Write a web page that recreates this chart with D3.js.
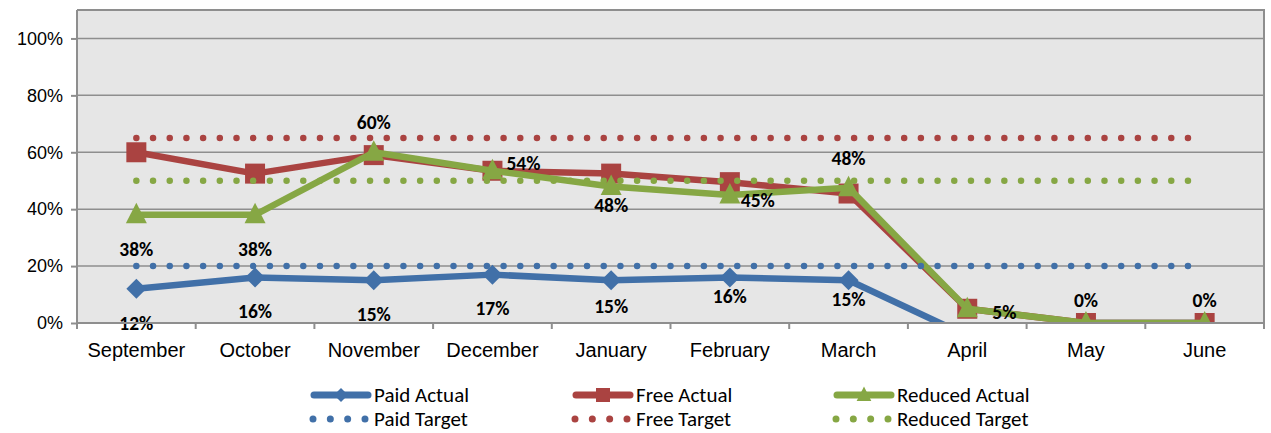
<!DOCTYPE html>
<html>
<head>
<meta charset="utf-8">
<script src="https://cdn.jsdelivr.net/npm/d3@7"></script>
<style>
	body { margin: 0; background: #fff; }
	svg { display: block; font-family: Carlito, Lato, sans-serif; }
</style>
</head>
<body>
<svg id="chart" width="1271" height="433"></svg>
<script>
	// values
	var months = ['September', 'October', 'November', 'December', 'January', 'February', 'March', 'April', 'May', 'June'];
	var paidActual    = [0.12, 0.16, 0.15, 0.17, 0.15, 0.16, 0.15, -0.045, 0, 0];
	var freeActual    = [0.60, 0.525, 0.59, 0.535, 0.525, 0.495, 0.455, 0.05, 0, 0];
	var reducedActual = [0.38, 0.38, 0.60, 0.535, 0.48, 0.45, 0.475, 0.05, 0, 0];
	var paidTarget    = [0.20, 0.20, 0.20, 0.20, 0.20, 0.20, 0.20, 0.20, 0.20, 0.20];
	var freeTarget    = [0.65, 0.65, 0.65, 0.65, 0.65, 0.65, 0.65, 0.65, 0.65, 0.65];
	var reducedTarget = [0.50, 0.50, 0.50, 0.50, 0.50, 0.50, 0.50, 0.50, 0.50, 0.50];
	// where each data label sits (null = no label)
	var paidLabelPos    = ['below', 'below', 'below', 'below', 'belowMid', 'belowNear', 'belowNear', null, null, null];
	var reducedLabelPos = ['below', 'below', 'above', 'right', 'belowNear', 'rightLow', 'above', 'rightFar', 'aboveNear', 'aboveNear'];
	var yTicks = [0, 0.2, 0.4, 0.6, 0.8, 1.0];

	var blue = '#4170a8', red = '#aa4341', green = '#86a744';

	var svg = d3.select('#chart');
	var plot = { left: 77, right: 1264, top: 10, bottom: 323 };

	var x = d3.scaleBand().domain(months).range([plot.left, plot.right]);
	var y = d3.scaleLinear().domain([0, 1.1]).range([plot.bottom, plot.top]);
	var cx = function(m) { return x(m) + x.bandwidth() / 2; };

	svg.append('defs').append('clipPath').attr('id', 'plotclip')
		.append('rect')
		.attr('x', plot.left).attr('y', plot.top)
		.attr('width', plot.right - plot.left).attr('height', plot.bottom - plot.top);

	// plot background + border
	svg.append('rect')
		.attr('x', plot.left).attr('y', plot.top)
		.attr('width', plot.right - plot.left).attr('height', plot.bottom - plot.top)
		.attr('fill', '#e6e6e6');
	svg.append('path')
		.attr('d', 'M' + plot.left + ',' + plot.top + 'H' + plot.right + 'V' + plot.bottom)
		.attr('fill', 'none').attr('stroke', '#8e8e8e').attr('stroke-width', 2);

	// gridlines
	svg.append('g').selectAll('line')
		.data(yTicks.filter(function(t) { return t > 0; }))
		.enter().append('line')
		.attr('x1', plot.left).attr('x2', plot.right)
		.attr('y1', function(d) { return y(d); }).attr('y2', function(d) { return y(d); })
		.attr('stroke', '#8e8e8e').attr('stroke-width', 1.5);

	// y axis
	var yAxis = svg.append('g')
		.attr('transform', 'translate(' + plot.left + ',0)')
		.call(d3.axisLeft(y).tickValues(yTicks).tickFormat(d3.format('.0%')).tickSize(6).tickPadding(8));
	yAxis.selectAll('line, path').attr('stroke', '#8e8e8e').attr('stroke-width', 2);
	yAxis.select('.domain').attr('d', 'M0,' + plot.top + 'V' + plot.bottom);
	yAxis.selectAll('text').attr('font-size', 18).attr('fill', '#000').style('font-family', 'inherit');

	var series = svg.append('g').attr('clip-path', 'url(#plotclip)');
	var line = d3.line().x(function(d, i) { return cx(months[i]); }).y(function(d) { return y(d); });

	function drawActual(values, color) {
		series.append('path')
			.datum(values)
			.attr('d', line)
			.attr('fill', 'none').attr('stroke', color)
			.attr('stroke-width', 6.5).attr('stroke-linejoin', 'round');
	}

	function drawMarkers(values, color, shape) {
		series.append('g').selectAll('path')
			.data(values)
			.enter().append('path')
			.attr('transform', function(d, i) { return 'translate(' + cx(months[i]) + ',' + y(d) + ')'; })
			.attr('d', shape)
			.attr('fill', color);
	}

	var diamond = 'M0,-10L10,0L0,10L-10,0Z';
	var square = 'M-10,-10H10V10H-10Z';
	var triangle = 'M0,-12L10.5,8.5H-10.5Z';

	drawActual(paidActual, blue);
	drawMarkers(paidActual, blue, diamond);
	drawActual(freeActual, red);
	drawMarkers(freeActual, red, square);
	drawActual(reducedActual, green);
	drawMarkers(reducedActual, green, triangle);

	// dotted targets
	var span = cx(months[months.length - 1]) - cx(months[0]);
	var gap = span / 64;
	function drawTarget(values, color) {
		series.append('path')
			.datum(values)
			.attr('d', line)
			.attr('fill', 'none').attr('stroke', color)
			.attr('stroke-width', 6.5).attr('stroke-linecap', 'round')
			.attr('stroke-dasharray', '0,' + gap);
	}
	drawTarget(paidTarget, blue);
	drawTarget(freeTarget, red);
	drawTarget(reducedTarget, green);

	// data labels
	var pct = function(v) { return Math.round(v * 100) + '%'; };
	var offsets = {
		below: { dx: 0, dy: 34, anchor: 'middle' },
		belowMid: { dx: 0, dy: 26, anchor: 'middle' },
		belowNear: { dx: 0, dy: 19, anchor: 'middle' },
		above: { dx: 0, dy: -30, anchor: 'middle' },
		aboveNear: { dx: 0, dy: -23, anchor: 'middle' },
		right: { dx: 14, dy: -8, anchor: 'start' },
		rightLow: { dx: 11, dy: 5, anchor: 'start' },
		rightFar: { dx: 25, dy: 3, anchor: 'start' }
	};
	function drawLabels(values, positions) {
		var items = values.map(function(v, i) { return { v: v, i: i, pos: positions[i] }; })
			.filter(function(d) { return d.pos; });
		svg.append('g').selectAll('text')
			.data(items)
			.enter().append('text')
			.attr('x', function(d) { return cx(months[d.i]) + offsets[d.pos].dx; })
			.attr('y', function(d) { return y(d.v) + offsets[d.pos].dy; })
			.attr('dy', '0.35em')
			.attr('text-anchor', function(d) { return offsets[d.pos].anchor; })
			.attr('font-size', 19.5).attr('font-weight', 'bold').attr('fill', '#000')
			.text(function(d) { return pct(d.v); });
	}
	drawLabels(paidActual, paidLabelPos);
	drawLabels(reducedActual, reducedLabelPos);

	// x axis
	var xAxis = svg.append('g')
		.attr('transform', 'translate(0,' + plot.bottom + ')')
		.call(d3.axisBottom(x).tickSize(0).tickPadding(23));
	xAxis.select('.domain').attr('stroke', '#8e8e8e').attr('stroke-width', 2)
		.attr('d', 'M' + plot.left + ',0H' + plot.right);
	xAxis.selectAll('text').attr('font-size', 20).attr('fill', '#000').style('font-family', 'inherit')
		.attr('dy', '0.55em');
	xAxis.append('g').selectAll('line')
		.data(months.slice(1).concat(['end']))
		.enter().append('line')
		.attr('x1', function(d) { return d === 'end' ? plot.right : x(d); })
		.attr('x2', function(d) { return d === 'end' ? plot.right : x(d); })
		.attr('y1', 0).attr('y2', 6)
		.attr('stroke', '#8e8e8e').attr('stroke-width', 2);
	xAxis.append('line')
		.attr('x1', plot.left).attr('x2', plot.left).attr('y1', 0).attr('y2', 6)
		.attr('stroke', '#8e8e8e').attr('stroke-width', 2);

	// legend
	var legendItems = [
		{ name: 'Paid Actual', color: blue, shape: diamond, dotted: false },
		{ name: 'Free Actual', color: red, shape: square, dotted: false },
		{ name: 'Reduced Actual', color: green, shape: triangle, dotted: false },
		{ name: 'Paid Target', color: blue, dotted: true },
		{ name: 'Free Target', color: red, dotted: true },
		{ name: 'Reduced Target', color: green, dotted: true }
	];
	var colX = [310, 572, 833];
	var rowY = [395, 419];
	var legend = svg.append('g');
	legendItems.forEach(function(item, k) {
		var gx = colX[k % 3], gy = rowY[Math.floor(k / 3)];
		var g = legend.append('g').attr('transform', 'translate(' + gx + ',' + gy + ')');
		if (item.dotted) {
			g.append('line').attr('x1', 3).attr('x2', 55).attr('y1', 0).attr('y2', 0)
				.attr('stroke', item.color).attr('stroke-width', 7)
				.attr('stroke-linecap', 'round').attr('stroke-dasharray', '0,17.33');
		} else {
			g.append('line').attr('x1', 4).attr('x2', 58).attr('y1', 0).attr('y2', 0)
				.attr('stroke', item.color).attr('stroke-width', 7).attr('stroke-linecap', 'round');
			g.append('path').attr('transform', 'translate(31,0) scale(0.7)')
				.attr('d', item.shape).attr('fill', item.color);
		}
		g.append('text').attr('x', 64).attr('y', 0).attr('dy', '0.35em')
			.attr('font-size', 21).attr('fill', '#000').text(item.name);
	});
</script>
</body>
</html>
